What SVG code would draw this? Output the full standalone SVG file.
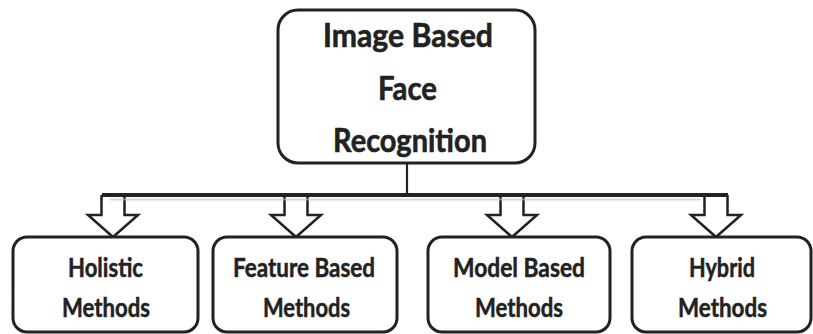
<svg xmlns="http://www.w3.org/2000/svg" xmlns:xlink="http://www.w3.org/1999/xlink" width="813" height="334" viewBox="0 0 813 334">
  <style>
    .box { fill: #ffffff; stroke: #222222; stroke-width: 3; }
    .title { font-family: Lato, "Open Sans", "Liberation Sans", sans-serif; font-weight: bold; font-size: 32px; fill: #222222; stroke: #222222; stroke-width: 0.6; }
    .label { font-family: Lato, "Open Sans", "Liberation Sans", sans-serif; font-weight: bold; font-size: 27px; fill: #222222; stroke: #222222; stroke-width: 0.5; }
    .arrow { fill: #ffffff; stroke: #222222; stroke-width: 2.5; stroke-linejoin: miter; }
    .wire { stroke: #222222; fill: none; }
  </style>
  <defs>
    <!-- hollow block arrow, origin at the top centre of the shaft -->
    <path id="blockArrow" class="arrow" d="M -11.5,0 V 20 H -25 L 0,42 L 25,20 H 11.5 V 0"/>
  </defs>

  <rect width="813" height="334" fill="#ffffff"/>

  <!-- connectors -->
  <g id="connectors">
    <use xlink:href="#blockArrow" x="113" y="195"/>
    <use xlink:href="#blockArrow" x="296" y="195"/>
    <use xlink:href="#blockArrow" x="512" y="195"/>
    <use xlink:href="#blockArrow" x="716" y="195"/>
    <line x1="110" y1="199.5" x2="700" y2="199.5" stroke="#bdbdbd" stroke-width="2" opacity="0.6"/>
    <line class="wire" x1="102" y1="195" x2="728" y2="195" stroke-width="4"/>
    <line class="wire" x1="407" y1="163" x2="407" y2="195" stroke-width="2.2"/>
  </g>

  <!-- root node -->
  <g id="node-root">
    <rect class="box" x="278" y="10" width="257" height="153" rx="20" ry="20"/>
    <text class="title" x="323" y="47" textLength="170" lengthAdjust="spacingAndGlyphs">Image Based</text>
    <text class="title" x="378" y="100" textLength="59" lengthAdjust="spacingAndGlyphs">Face</text>
    <text class="title" x="333" y="152" textLength="154" lengthAdjust="spacingAndGlyphs">Recognition</text>
  </g>

  <!-- child nodes -->
  <g id="node-holistic">
    <rect class="box" x="13" y="237" width="185" height="95" rx="14" ry="14"/>
    <text class="label" x="68" y="277" textLength="75" lengthAdjust="spacingAndGlyphs">Holistic</text>
    <text class="label" x="62" y="317" textLength="88" lengthAdjust="spacingAndGlyphs">Methods</text>
  </g>

  <g id="node-feature">
    <rect class="box" x="213" y="237" width="184" height="95" rx="14" ry="14"/>
    <text class="label" x="233" y="277" textLength="142" lengthAdjust="spacingAndGlyphs">Feature Based</text>
    <text class="label" x="263" y="317" textLength="87" lengthAdjust="spacingAndGlyphs">Methods</text>
  </g>

  <g id="node-model">
    <rect class="box" x="428" y="237" width="182" height="95" rx="14" ry="14"/>
    <text class="label" x="453" y="277" textLength="132" lengthAdjust="spacingAndGlyphs">Model Based</text>
    <text class="label" x="475" y="317" textLength="88" lengthAdjust="spacingAndGlyphs">Methods</text>
  </g>

  <g id="node-hybrid">
    <rect class="box" x="632" y="237" width="179" height="95" rx="14" ry="14"/>
    <text class="label" x="689" y="277" textLength="66" lengthAdjust="spacingAndGlyphs">Hybrid</text>
    <text class="label" x="678" y="317" textLength="89" lengthAdjust="spacingAndGlyphs">Methods</text>
  </g>
</svg>
